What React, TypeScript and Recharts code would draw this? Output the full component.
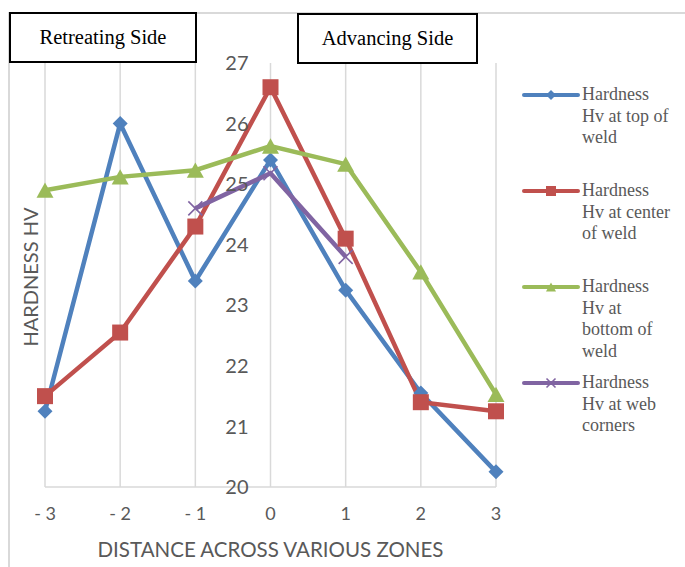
import React from "react";
import {
  CartesianGrid,
  Legend,
  Line,
  LineChart,
  XAxis,
  YAxis,
} from "recharts";

// distance across zones (x) and the four hardness series
const distance = [-3, -2, -1, 0, 1, 2, 3];
const topOfWeld = [21.25, 26.0, 23.4, 25.4, 23.25, 21.55, 20.25];
const centerOfWeld = [21.5, 22.55, 24.3, 26.6, 24.1, 21.4, 21.25];
const bottomOfWeld = [24.9, 25.12, 25.23, 25.63, 25.33, 23.55, 21.53];
const webCorners = [null, null, 24.6, 25.18, 23.8, null, null];

const xTicks = [-3, -2, -1, 0, 1, 2, 3];
const yTicks = [20, 21, 22, 23, 24, 25, 26, 27];

const W = 685;
const H = 567;
const Y_AXIS_W = 1;
const MARGIN = { top: 63, right: 189, bottom: 50, left: 45 - Y_AXIS_W };
const PLOT_LEFT = MARGIN.left + Y_AXIS_W;
const PLOT_W = W - PLOT_LEFT - MARGIN.right;
const AXIS_GREY = "#595959";
const GRID = "#d9d9d9";
const SANS = "Lato, 'Open Sans', sans-serif";
const SERIF = "'Liberation Serif', 'Times New Roman', serif";

const data = distance.map((x, i) => ({
  x,
  top: topOfWeld[i],
  center: centerOfWeld[i],
  bottom: bottomOfWeld[i],
  web: webCorners[i],
}));

type Shape = "diamond" | "square" | "triangle" | "cross";

const series: { key: string; name: string[]; color: string; shape: Shape }[] = [
  { key: "top", name: ["Hardness", "Hv at top of", "weld"], color: "#4f81bd", shape: "diamond" },
  { key: "center", name: ["Hardness", "Hv at center", "of weld"], color: "#c0504d", shape: "square" },
  { key: "bottom", name: ["Hardness", "Hv at", "bottom of", "weld"], color: "#9bbb59", shape: "triangle" },
  { key: "web", name: ["Hardness", "Hv at web", "corners"], color: "#8064a2", shape: "cross" },
];

const Marker = ({ cx, cy, shape, color, s }: { cx: number; cy: number; shape: Shape; color: string; s: number }) => {
  if (shape === "diamond")
    return <polygon points={`${cx},${cy - s} ${cx + s},${cy} ${cx},${cy + s} ${cx - s},${cy}`} fill={color} />;
  if (shape === "square")
    return <rect x={cx - s} y={cy - s} width={s * 2} height={s * 2} fill={color} />;
  if (shape === "triangle")
    return <polygon points={`${cx},${cy - s * 0.9} ${cx + s},${cy + s * 0.9} ${cx - s},${cy + s * 0.9}`} fill={color} />;
  return (
    <g stroke={color} strokeWidth={1.6}>
      <line x1={cx - s} y1={cy - s} x2={cx + s} y2={cy + s} />
      <line x1={cx - s} y1={cy + s} x2={cx + s} y2={cy - s} />
    </g>
  );
};

const dotSize: Record<Shape, number> = { diamond: 7.5, square: 8, triangle: 8.5, cross: 7 };

const makeDot = (shape: Shape, color: string) => (props: any) => {
  const { cx, cy, index, value } = props;
  if (value == null || cx == null || cy == null) return <g key={`e-${index}`} />;
  return (
    <g key={`d-${index}`}>
      <Marker cx={cx} cy={cy} shape={shape} color={color} s={dotSize[shape]} />
    </g>
  );
};

// y tick labels sit next to the x = 0 gridline, as in the source
const YTick = (props: any) => {
  const { y, payload } = props;
  return (
    <text
      x={PLOT_LEFT + PLOT_W / 2 - 22}
      y={y}
      dy="0.36em"
      textAnchor="end"
      fill={AXIS_GREY}
      fontSize={20}
      fontFamily={SANS}
    >
      {payload.value}
    </text>
  );
};

const xTickFormatter = (v: number) => (v < 0 ? `- ${-v}` : `${v}`);

const LegendContent = () => (
  <div style={{ fontFamily: SERIF, fontSize: 18, lineHeight: "21.7px", color: AXIS_GREY }}>
    {series.map((s) => (
      <div key={s.key} style={{ display: "flex", height: 96 }}>
        <svg width={61} height={22} style={{ flex: "none" }}>
          <line x1={3} y1={11} x2={57} y2={11} stroke={s.color} strokeWidth={4} strokeLinecap="round" />
          <Marker cx={30} cy={11} shape={s.shape} color={s.color} s={s.shape === "cross" ? 4.5 : 5} />
        </svg>
        <div>
          {s.name.map((t, i) => (
            <div key={i}>{t}</div>
          ))}
        </div>
      </div>
    ))}
  </div>
);

const boxStyle: React.CSSProperties = {
  position: "absolute",
  border: "2px solid #000",
  background: "#fff",
  boxSizing: "border-box",
  fontFamily: SERIF,
  fontSize: 20.5,
  color: "#000",
  display: "flex",
  alignItems: "center",
  justifyContent: "center",
};

export default function App() {
  return (
    <div style={{ position: "absolute", left: 0, top: 0, width: W, height: H, overflow: "hidden", background: "#fff" }}>
      <div
        style={{
          position: "absolute",
          left: 8,
          top: 12,
          width: 720,
          height: 620,
          border: `2px solid ${GRID}`,
        }}
      />
      <div style={{ position: "absolute", left: 0, top: 0 }}>
        <LineChart width={W} height={H} data={data} margin={MARGIN}>
          <CartesianGrid horizontal={false} stroke={GRID} strokeWidth={1.5} />
          <XAxis
            dataKey="x"
            type="number"
            domain={[-3, 3]}
            ticks={xTicks}
            height={30}
            tickLine={false}
            tickMargin={14}
            tickFormatter={xTickFormatter}
            axisLine={{ stroke: GRID, strokeWidth: 1.5 }}
            tick={{ fill: AXIS_GREY, fontSize: 18, fontFamily: SANS }}
            label={{
              value: "DISTANCE ACROSS VARIOUS ZONES",
              position: "bottom",
              offset: 25,
              fill: AXIS_GREY,
              fontSize: 20.5,
              fontFamily: SANS,
            }}
          />
          <YAxis
            type="number"
            domain={[20, 27]}
            ticks={yTicks}
            interval={0}
            width={Y_AXIS_W}
            axisLine={false}
            tickLine={false}
            tick={YTick}
          />
          <Legend
            layout="vertical"
            align="center"
            verticalAlign="middle"
            content={LegendContent}
            wrapperStyle={{ left: 521, top: 84, width: 164 }}
          />
          {series.map((s) => (
            <Line
              key={s.key}
              dataKey={s.key}
              stroke={s.color}
              strokeWidth={4.5}
              type="linear"
              dot={makeDot(s.shape, s.color)}
              activeDot={false}
              connectNulls={false}
              isAnimationActive={false}
            />
          ))}
        </LineChart>
      </div>
      <div
        style={{
          position: "absolute",
          left: 30,
          top: 277,
          transform: "translate(-50%, -50%) rotate(-90deg)",
          whiteSpace: "nowrap",
          fontFamily: SANS,
          fontSize: 20,
          color: AXIS_GREY,
        }}
      >
        HARDNESS HV
      </div>
      <div style={{ ...boxStyle, left: 9, top: 12, width: 188, height: 51 }}>Retreating Side</div>
      <div style={{ ...boxStyle, left: 297, top: 13, width: 181, height: 51 }}>Advancing Side</div>
    </div>
  );
}
